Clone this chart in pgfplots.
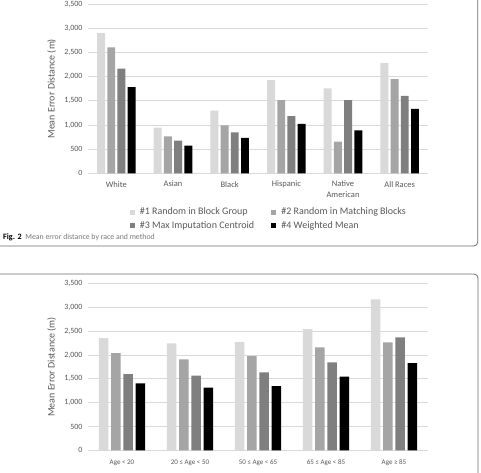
\documentclass[border=0pt]{standalone}
\usepackage{pgfplots}
\usepackage{pgfplotstable}
\pgfplotsset{compat=1.18}
\usepackage{fontspec}
\setmainfont{Carlito}
\definecolor{cA}{RGB}{217,217,217}
\definecolor{cB}{RGB}{165,165,165}
\definecolor{cC}{RGB}{127,127,127}
\definecolor{cD}{RGB}{0,0,0}
\definecolor{gridc}{RGB}{217,217,217}
\definecolor{txt}{RGB}{89,89,89}
\definecolor{framec}{RGB}{110,110,110}
\definecolor{capgray}{RGB}{120,120,120}

\pgfplotstableread{
x m1 m2 m3 m4
0 2900 2604 2169 1782
1 945 766 676 572
2 1297 993 848 731
3 1931 1517 1186 1021
4 1759 655 1517 890
5 2279 1948 1602 1333
}\race

\pgfplotstableread{
x m1 m2 m3 m4
0 2359 2044 1603 1407
1 2247 1911 1568 1316
2 2275 1981 1638 1351
3 2548 2163 1848 1547
4 3171 2268 2373 1834
}\age

\pgfplotsset{
  mybars/.style={
    scale only axis, width=340pt,
    ymin=0, ymax=3500, ytick={0,500,...,3500},
    ymajorgrids, grid style={draw=gridc, line width=0.9pt},
    axis line style={draw=none}, major tick style={draw=none},
    xtick={0,...,5},
    yticklabel style={font=\fontsize{8}{9}\selectfont, color=txt, xshift=-2pt,
      /pgf/number format/.cd, 1000 sep={,}, assume math mode=true},
    ylabel={Mean Error Distance (m)},
    every axis y label/.style={at={(axis description cs:-0.1068,0.5)}, rotate=90, anchor=center,
      font=\fontsize{10}{12}\selectfont, color=txt},
    ybar, bar width=0.14,
    legend image code/.code={\fill[##1] (0pt,-2.6pt) rectangle (5.2pt,2.6pt); \path (8.2pt,0pt);},
  }
}

\begin{document}
\begin{tikzpicture}
\path[use as bounding box] (0pt,0pt) rectangle (481pt,-472pt);
\fill[white] (0pt,0pt) rectangle (481pt,-472pt);
\draw[framec, line width=0.8pt, rounded corners=4pt] (-5pt,-246pt) -- (477.7pt,-246pt) -- (477.7pt,5pt);
\draw[framec, line width=0.8pt, rounded corners=4pt] (-5pt,-274pt) -- (478pt,-274pt) -- (478pt,-480pt);

\begin{axis}[mybars, at={(88pt,-173.3pt)}, anchor=south west, height=169.1pt,
  xmin=-0.5, xmax=5.5,
  xticklabels={White, Asian, Black, Hispanic, {Native\\American}, All Races},
  xticklabel style={align=center, font=\fontsize{8.5}{11}\selectfont, color=txt},
  legend columns=2,
  legend cell align=left,
  legend style={at={(0.113,-0.18)}, anchor=north west, draw=none, fill=none,
    font=\fontsize{10}{11}\selectfont, text=txt, row sep=1pt,
    /tikz/every even column/.append style={column sep=15pt}},
]
\addplot[fill=cA, draw=none, bar shift=-0.27] table[x=x, y=m1] {\race};
\addplot[fill=cB, draw=none, bar shift=-0.09] table[x=x, y=m2] {\race};
\addplot[fill=cC, draw=none, bar shift=0.09] table[x=x, y=m3] {\race};
\addplot[fill=cD, draw=none, bar shift=0.27] table[x=x, y=m4] {\race};
\legend{\#1 Random in Block Group, \#2 Random in Matching Blocks, \#3 Max Imputation Centroid, \#4 Weighted Mean}
\end{axis}

\node[anchor=west, inner sep=0pt] at (3pt,-237.8pt) {\fontsize{8.2}{9}\selectfont\bfseries Fig. 2\ \ {\mdseries\color{capgray}\fontsize{7.8}{9}\selectfont Mean error distance by race and method}};

\begin{axis}[mybars, at={(88pt,-450.3pt)}, anchor=south west, height=166.6pt,
  xmin=-0.5, xmax=4.5,
  xticklabels={Age < 20, 20 ≤ Age < 50, 50 ≤ Age < 65, 65 ≤ Age < 85, Age ≥ 85},
  xticklabel style={font=\fontsize{7}{8}\selectfont, color=txt, yshift=-2pt},
]
\addplot[fill=cA, draw=none, bar shift=-0.27] table[x=x, y=m1] {\age};
\addplot[fill=cB, draw=none, bar shift=-0.09] table[x=x, y=m2] {\age};
\addplot[fill=cC, draw=none, bar shift=0.09] table[x=x, y=m3] {\age};
\addplot[fill=cD, draw=none, bar shift=0.27] table[x=x, y=m4] {\age};
\end{axis}
\end{tikzpicture}
\end{document}
